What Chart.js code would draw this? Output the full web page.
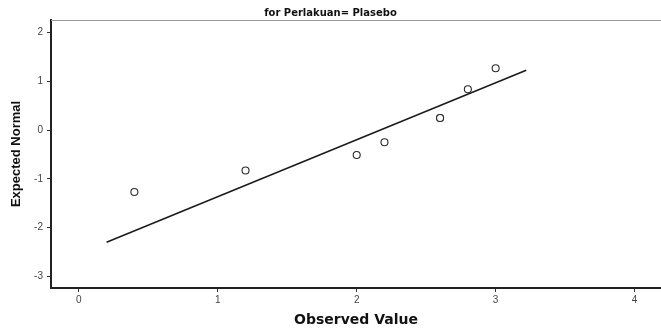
<!DOCTYPE html>
<html>
<head>
<meta charset="utf-8">
<script src="https://cdn.jsdelivr.net/npm/chart.js@4/dist/chart.umd.min.js"></script>
<style>
  html, body { margin: 0; padding: 0; background: #fff; }
  #wrap { width: 661px; height: 333px; position: relative; }
</style>
</head>
<body>
<div id="wrap"><canvas id="qq-chart"></canvas></div>
<script>
// Normal Q-Q plot, Perlakuan = Plasebo
const observed = [0.4, 1.2, 2.0, 2.2, 2.6, 2.6, 2.8, 3.0];
const expectedNormal = [-1.27, -0.83, -0.51, -0.25, 0.25, 0.25, 0.84, 1.27];
const refLineX = [0.2, 3.22];
const refLineY = [-2.30, 1.23];
const xTickValues = [0, 1, 2, 3, 4];
const yTickValues = [-3, -2, -1, 0, 1, 2];

const FONT = '"Liberation Sans", Arial, sans-serif';
const WIDE = '"DejaVu Sans", Verdana, sans-serif';

// thin grey line along the top of the plot box
const topFrame = {
  id: 'topFrame',
  beforeDatasetsDraw(chart) {
    const { ctx, chartArea } = chart;
    ctx.save();
    ctx.strokeStyle = '#9a9a9a';
    ctx.lineWidth = 1;
    ctx.beginPath();
    ctx.moveTo(chartArea.left, chartArea.top + 0.5);
    ctx.lineTo(chartArea.right, chartArea.top + 0.5);
    ctx.stroke();
    ctx.restore();
  }
};

new Chart(document.getElementById('qq-chart').getContext('2d'), {
  type: 'scatter',
  data: {
    datasets: [
      {
        label: 'Reference',
        data: refLineX.map((x, i) => ({ x, y: refLineY[i] })),
        showLine: true,
        borderColor: '#1a1a1a',
        borderWidth: 1.5,
        pointRadius: 0,
        order: 2
      },
      {
        label: 'Observed',
        data: observed.map((x, i) => ({ x, y: expectedNormal[i] })),
        pointRadius: 3.5,
        pointBackgroundColor: '#fff',
        pointBorderColor: '#2a2a2a',
        pointBorderWidth: 1.1,
        order: 1
      }
    ]
  },
  options: {
    responsive: true,
    maintainAspectRatio: false,
    animation: false,
    // plot box runs right up to the canvas edge
    layout: { autoPadding: false, padding: 0 },
    plugins: {
      legend: { display: false },
      tooltip: { enabled: false },
      title: {
        display: true,
        text: 'for Perlakuan= Plasebo',
        color: '#111',
        font: { family: WIDE, size: 10, weight: 'bold' },
        padding: { top: 7, bottom: 1 }
      }
    },
    scales: {
      x: {
        type: 'linear',
        min: -0.2,
        max: 4.19,
        afterBuildTicks: s => { s.ticks = xTickValues.map(v => ({ value: v })); },
        afterFit: s => { s.height = 45; s.paddingLeft = 0; s.paddingRight = 0; },
        grid: { drawOnChartArea: false, drawTicks: true, tickLength: 4, color: '#333' },
        border: { color: '#222', width: 2 },
        ticks: { color: '#444', font: { family: FONT, size: 10 }, padding: 2, includeBounds: false },
        title: {
          display: true,
          text: 'Observed Value',
          color: '#111',
          font: { family: WIDE, size: 14, weight: 'bold' },
          padding: { top: 0, bottom: 4 }
        }
      },
      y: {
        type: 'linear',
        min: -3.24,
        max: 2.26,
        afterBuildTicks: s => { s.ticks = yTickValues.map(v => ({ value: v })); },
        afterFit: s => { s.width = 51; s.paddingTop = 0; s.paddingBottom = 0; },
        grid: { drawOnChartArea: false, drawTicks: true, tickLength: 4, color: '#333' },
        border: { color: '#222', width: 2 },
        ticks: { color: '#444', font: { family: FONT, size: 10 }, padding: 4, includeBounds: false },
        title: {
          display: true,
          text: 'Expected Normal',
          color: '#111',
          font: { family: FONT, size: 13, weight: 'bold' },
          padding: { top: 9, bottom: 0 }
        }
      }
    }
  },
  plugins: [topFrame]
});
</script>
</body>
</html>
